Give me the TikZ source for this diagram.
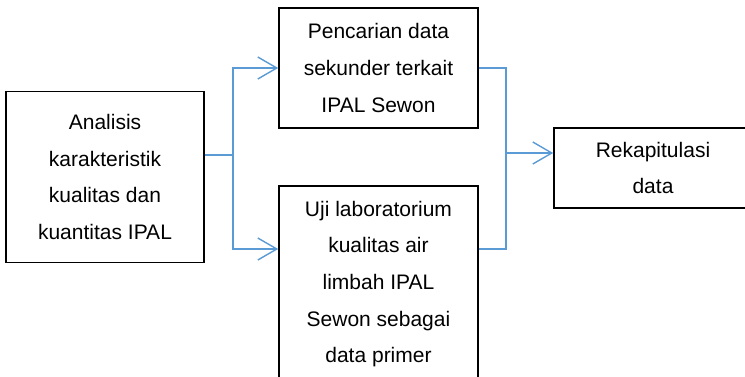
\documentclass[tikz,border=0pt]{standalone}
\usepackage{fontspec}
\setmainfont{Liberation Sans}
\usetikzlibrary{arrows.meta}

\begin{document}
\begin{tikzpicture}[x=1pt,y=-1pt,
		kotak/.style={draw,line width=1.6pt,align=center,inner sep=0pt,
			font=\fontsize{21}{36.7}\selectfont},
		garis/.style={draw=biru,line width=1.4pt},
		panah/.style={garis,-{Straight Barb[length=19pt,width=22pt]}}]
		\definecolor{biru}{RGB}{91,155,213}
		\useasboundingbox (0,0) rectangle (745,376);
		\clip (0,0) rectangle (745,376);

		\node[kotak,minimum width=198pt,minimum height=171pt] (kiri) at (105,177)
		  {Analisis\\karakteristik\\kualitas dan\\kuantitas IPAL};
		\node[kotak,minimum width=199pt,minimum height=120pt] (atas) at (378.5,68)
		  {Pencarian data\\sekunder terkait\\IPAL Sewon};
		\node[kotak,minimum width=199pt,minimum height=196pt] (bawah) at (378.5,284)
		  {Uji laboratorium\\kualitas air\\limbah IPAL\\Sewon sebagai\\data primer};
		\node[kotak,minimum width=198pt,minimum height=80pt] (rekap) at (653,168)
		  {Rekapitulasi\\data};

		\coordinate (pisah) at (233,155);
		\coordinate (gabung) at (506,153);
		\coordinate (jalur) at (0,249);

		\draw[garis] (kiri.east |- pisah) -- (pisah);
		\draw[panah] (pisah) |- (atas.west);
		\draw[panah] (pisah) |- (bawah.west |- jalur);
		\draw[garis] (atas.east) -| (gabung |- jalur) -- (bawah.east |- jalur);
		\draw[panah] (gabung) -- (rekap.west |- gabung);
\end{tikzpicture}
\end{document}
